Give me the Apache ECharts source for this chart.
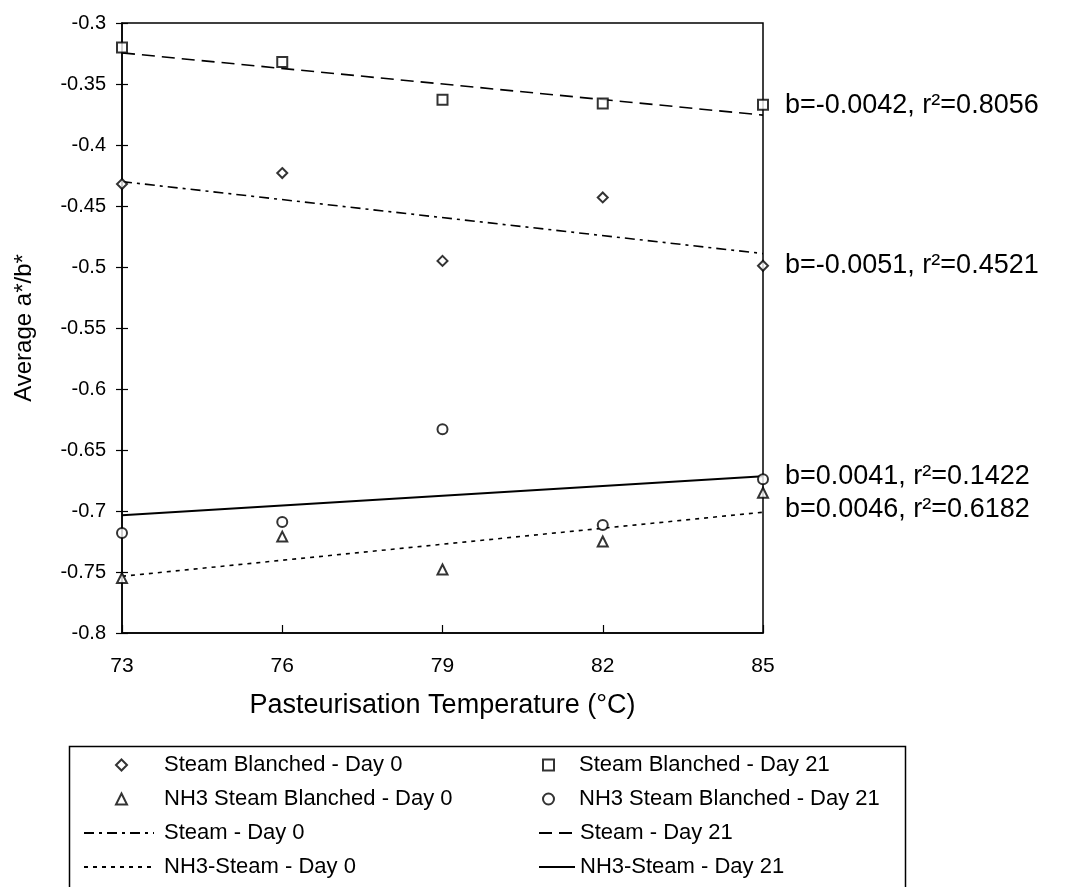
<!DOCTYPE html>
<html>
<head>
<meta charset="utf-8">
<script src="https://cdn.jsdelivr.net/npm/echarts@6/dist/echarts.min.js"></script>
<style>html,body{margin:0;padding:0;background:#fff;}#c{width:1065px;height:887px;}</style>
</head>
<body>
<div id="c"></div>
<script>
// ---- data ----
var temps = [73, 76, 79, 82, 85];
var steamDay0 = [-0.432, -0.423, -0.495, -0.443, -0.499];
var steamDay21 = [-0.320, -0.332, -0.363, -0.366, -0.367];
var nh3Day0 = [-0.755, -0.721, -0.748, -0.725, -0.685];
var nh3Day21 = [-0.718, -0.709, -0.633, -0.7115, -0.674];
// trend lines (end points)
var fitX = [73, 85];
var steamDay0Fit = [-0.430, -0.489];
var steamDay21Fit = [-0.3245, -0.3755];
var nh3Day0Fit = [-0.7535, -0.701];
var nh3Day21Fit = [-0.7035, -0.6715];
var fitNotes = {
  steamDay0: 'b=-0.0051, r\u00B2=0.4521',
  steamDay21: 'b=-0.0042, r\u00B2=0.8056',
  nh3Day0: 'b=0.0046, r\u00B2=0.6182',
  nh3Day21: 'b=0.0041, r\u00B2=0.1422'
};
var scatterNamesDay0 = ['Steam Blanched - Day 0', 'NH3 Steam Blanched - Day 0'];
var scatterNamesDay21 = ['Steam Blanched - Day 21', 'NH3 Steam Blanched - Day 21'];
var lineNamesDay0 = ['Steam - Day 0', 'NH3-Steam - Day 0'];
var lineNamesDay21 = ['Steam - Day 21', 'NH3-Steam - Day 21'];

function pts(xs, ys) { return xs.map(function (x, i) { return [x, ys[i]]; }); }

var FONT = 'Liberation Sans, Arial, sans-serif';
var chart = echarts.init(document.getElementById('c'), null, {renderer: 'canvas'});

function scatter(name, sym, ys) {
  return {
    name: name, type: 'scatter', data: pts(temps, ys), symbol: sym, symbolSize: 10,
    itemStyle: {color: '#000', borderColor: '#000', borderWidth: 2.2},
    z: 5
  };
}
function fitLine(name, ys, lineType, width, note, dy) {
  return {
    name: name, type: 'line', data: pts(fitX, ys), symbol: 'none',
    lineStyle: {color: '#000', width: width, type: lineType},
    itemStyle: {color: 'rgba(0,0,0,0)', borderColor: 'rgba(0,0,0,0)', borderWidth: 0},
    endLabel: {show: true, formatter: note, distance: 22, offset: [0, dy],
      color: '#000', fontSize: 27, fontFamily: FONT},
    z: 3
  };
}
var hidden = {color: 'rgba(0,0,0,0)', borderColor: 'rgba(0,0,0,0)', borderWidth: 0};
function lineItems(names) { return names.map(function (n) { return {name: n, itemStyle: hidden}; }); }

var legendText = {fontSize: 22, color: '#000', lineHeight: 24, fontFamily: FONT};
function legendBlock(left, top, w, pad, data) {
  return {
    orient: 'vertical', left: left, top: top, itemWidth: w, itemHeight: w < 20 ? 11 : 12, itemGap: 10,
    selectedMode: false,
    textStyle: Object.assign({padding: [0, 0, 0, pad]}, legendText),
    data: data
  };
}

var option = {
  backgroundColor: '#fff',
  animation: false,
  textStyle: {fontFamily: FONT, color: '#000'},
  grid: {left: 122, top: 23, right: 302, bottom: 254, show: true, borderColor: '#000', borderWidth: 1.5, backgroundColor: 'transparent'},
  xAxis: {
    type: 'value', min: 73, max: 85, interval: 3,
    name: 'Pasteurisation Temperature (\u00B0C)', nameLocation: 'middle', nameGap: 59,
    nameTextStyle: {fontSize: 27, color: '#000', fontFamily: FONT},
    axisLine: {lineStyle: {color: '#000', width: 1.5}},
    axisTick: {inside: true, length: 8, lineStyle: {color: '#000', width: 1.2}},
    axisLabel: {fontSize: 21, color: '#000', margin: 23, fontFamily: FONT},
    splitLine: {show: false}
  },
  yAxis: [{
    type: 'value', min: -0.8, max: -0.3, interval: 0.05,
    name: 'Average a*/b*', nameLocation: 'middle', nameGap: 86,
    nameTextStyle: {fontSize: 24, color: '#000', fontFamily: FONT},
    axisLine: {lineStyle: {color: '#000', width: 1.5}},
    axisTick: {length: 6, lineStyle: {color: '#000', width: 1.2}},
    axisLabel: {fontSize: 20, color: '#000', margin: 16, fontFamily: FONT,
      formatter: function (v) { return String(Math.round(v * 100) / 100); }},
    splitLine: {show: false}
  }, {
    type: 'value', min: -0.8, max: -0.3, interval: 0.05, position: 'left',
    axisLine: {show: false},
    axisTick: {inside: true, length: 6, lineStyle: {color: '#000', width: 1.2}},
    axisLabel: {show: false}, splitLine: {show: false}
  }],
  legend: [
    legendBlock(110, 748, 11, 32, scatterNamesDay0),
    legendBlock(78, 816, 70, 5, lineItems(lineNamesDay0)),
    legendBlock(537, 748, 11, 20, scatterNamesDay21),
    legendBlock(533, 816, 36, 0, lineItems(lineNamesDay21))
  ],
  graphic: [{
    type: 'rect', left: 67, top: 744, shape: {width: 836, height: 160},
    style: {fill: 'none', stroke: '#000', lineWidth: 1.5}, z: 0
  }],
  series: [
    scatter('Steam Blanched - Day 0', 'emptyDiamond', steamDay0),
    scatter('Steam Blanched - Day 21', 'emptyRect', steamDay21),
    scatter('NH3 Steam Blanched - Day 0', 'emptyTriangle', nh3Day0),
    scatter('NH3 Steam Blanched - Day 21', 'emptyCircle', nh3Day21),
    fitLine('Steam - Day 0', steamDay0Fit, [10, 5, 3, 5], 1.6, fitNotes.steamDay0, 12),
    fitLine('Steam - Day 21', steamDay21Fit, [13, 7], 1.6, fitNotes.steamDay21, -10),
    fitLine('NH3-Steam - Day 0', nh3Day0Fit, [4, 5], 1.6, fitNotes.nh3Day0, -3),
    fitLine('NH3-Steam - Day 21', nh3Day21Fit, 'solid', 2.2, fitNotes.nh3Day21, 0)
  ]
};
chart.setOption(option);
</script>
</body>
</html>
